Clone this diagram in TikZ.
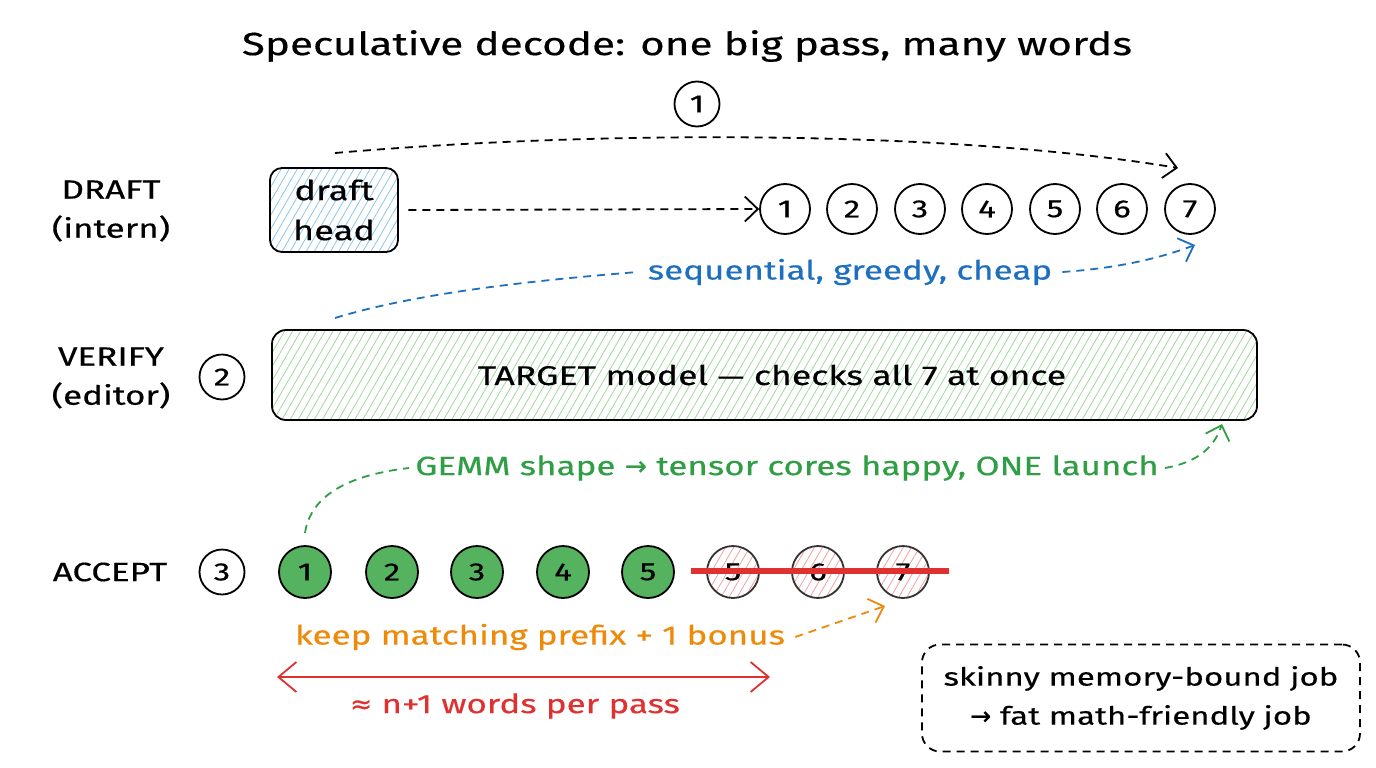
\documentclass[tikz,border=0pt]{standalone}
\usepackage{fontspec}
\setmainfont[FakeStretch=1.32,FakeBold=0.45]{Fira Sans}
\newfontfamily\sym[FakeBold=0.45]{DejaVu Sans}
\usetikzlibrary{arrows.meta,patterns.meta,calc}
\definecolor{cblue}{HTML}{1F6FBF}
\definecolor{cgreen}{HTML}{2F9E44}
\definecolor{gfill}{HTML}{55B25F}
\definecolor{lgreen}{HTML}{9ED89E}
\definecolor{lblue}{HTML}{8CC4EE}
\definecolor{cred}{HTML}{E03131}
\definecolor{lred}{HTML}{F4A0A0}
\definecolor{corange}{HTML}{EE8A0A}
\begin{document}
\begin{tikzpicture}[x=1pt,y=-1pt,
  txt/.style={font=\fontsize{26.5}{39}\selectfont, align=center, inner sep=0pt},
  num/.style={circle, draw=black, line width=1.8pt, minimum size=50pt, inner sep=0pt, font=\fontsize{25}{25}\selectfont},
  stepnum/.style={num, minimum size=45pt},
  dsh/.style={dash pattern=on 8pt off 6pt, line width=1.8pt},
  >={Straight Barb[length=13pt,width=25pt]},
  bigtip/.style={{Straight Barb[length=18pt,width=30pt]}-{Straight Barb[length=18pt,width=30pt]}},
  hatch/.style={pattern={Lines[angle=60,distance=7pt,line width=0.8pt]}},
]
\useasboundingbox (0,0) rectangle (1376,768);

% title
\node[txt, font=\fontsize{32}{40}\selectfont] (title) at (687,46) {Speculative decode: one big pass, many words};

% row labels
\node[txt] (ldraft) at (111,211) {DRAFT\\(intern)};
\node[txt] (lverify) at (111,378) {VERIFY\\(editor)};
\node[txt] (laccept) at (110,572) {ACCEPT};

% step numbers
\node[stepnum] (s1) at (697,104) {1};
\node[stepnum] (s2) at (222,377) {2};
\node[stepnum] (s3) at (222,572) {3};

% draft head
\node[txt, font=\fontsize{27.5}{40}\selectfont, draw, line width=1.8pt, rounded corners=12pt, minimum width=128pt, minimum height=84pt,
      hatch, pattern color=lblue] (dh) at (334,210) {draft\\head};

% draft tokens
\foreach \i/\x in {1/785,2/852,3/920,4/987,5/1055,6/1122,7/1190}
  \node[num] (c\i) at (\x,209) {\i};

\draw[dsh,->] (dh.east) ++(10,0) coordinate (dhe) (dhe) -- (c1.west);

% top arc
\coordinate (a1s) at (335,153);
\coordinate (a1e) at (1178,168);
\draw[dsh,->] (a1s) .. controls (600,130) and (950,130) .. (a1e);

% target box
\node[txt, font=\fontsize{27}{32}\selectfont, draw, line width=1.8pt, rounded corners=14pt,
      minimum width=985pt, minimum height=90pt, hatch, pattern color=lgreen] (tgt) at (764.5,375)
      {\hspace*{15pt}TARGET model {\sym —} checks all 7 at once};

% blue connector
\node[txt, text=cblue] (seq) at (850,272) {sequential, greedy, cheap};
\coordinate (bs) at (335,318);
\coordinate (be) at (1195,245);
\draw[dsh, cblue] (bs) .. controls (420,292) and (540,280) .. ([xshift=-10pt]seq.west);
\draw[dsh, cblue, ->] ([xshift=10pt]seq.east) .. controls (1120,268) and (1160,258) .. (be);

% accepted tokens
\foreach \i/\x in {1/305,2/392,3/477,4/563,5/648}
  \node[num, fill=gfill, minimum size=52pt] (g\i) at (\x,572) {\i};
\foreach \i/\n/\x in {5/5/733,6/6/818,7/7/903}
  \node[num, draw=black!80, minimum size=52pt, hatch, pattern color=lred] (r\i) at (\x,572) {\n};
\draw[cred, line width=5.5pt] ($(r5.west)+(-15,-1)$) coordinate (sl) -- ($(r7.east)+(19,-1)$) coordinate (sr);

% green connector
\node[txt, text=cgreen] (gemm) at (787,468) {GEMM shape {\sym →} tensor cores happy, ONE launch};
\coordinate (gs) at (305,533);
\coordinate (ge) at (1222,424);
\draw[dsh, cgreen] (gs) .. controls (310,500) and (340,476) .. ([xshift=-6pt]gemm.west);
\draw[dsh, cgreen, ->] ([xshift=6pt]gemm.east) .. controls (1200,462) and (1215,445) .. (ge);

% orange connector
\node[txt, text=corange] (keep) at (540,637) {keep matching prefix + 1 bonus};
\coordinate (oe) at (885,606);
\draw[dsh, corange, ->] ([xshift=10pt]keep.east) -- (oe);

% red span
\coordinate (rl) at (277,677);
\coordinate (rr) at (770,677);
\draw[cred, line width=1.8pt, bigtip] (rl) -- (rr);
\node[txt, text=cred] (npp) at (515,706) {{\sym ≈} n+1 words per pass};

% note box
\node[txt, font=\fontsize{25}{39}\selectfont, draw, dsh, rounded corners=18pt, minimum width=438pt, minimum height=107pt] (note) at (1141,698)
  {skinny memory-bound job\\{\sym →} fat math-friendly job};
\end{tikzpicture}
\end{document}
